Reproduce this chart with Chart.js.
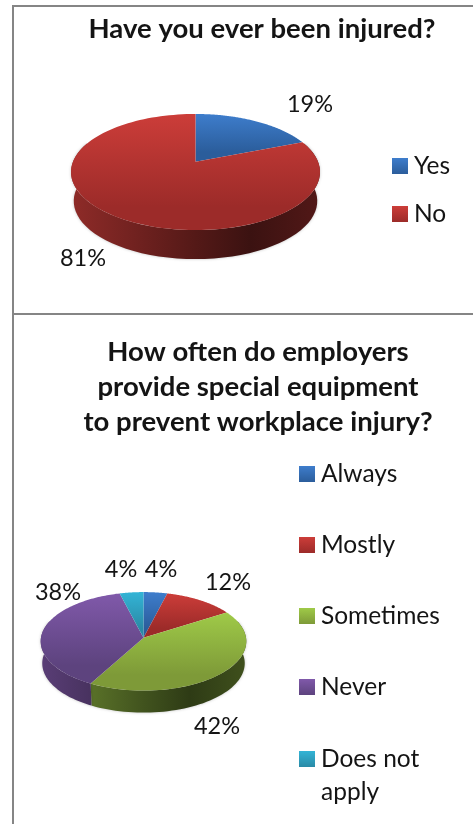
<!DOCTYPE html>
<html>
<head>
<meta charset="utf-8">
<title>Workplace injury</title>
<script src="https://cdn.jsdelivr.net/npm/chart.js@4"></script>
<style>
  html, body { margin: 0; padding: 0; background: #fff; overflow: hidden; }
  body { width: 473px; height: 824px; position: relative; }
  canvas { position: absolute; left: 0; }
  .rule { position: absolute; background: #858585; }
</style>
</head>
<body>
<div class="rule" style="left:12px;top:5px;width:2px;height:819px"></div>
<div class="rule" style="left:12px;top:5px;width:461px;height:2px"></div>
<div class="rule" style="left:12px;top:313px;width:461px;height:2px"></div>
<canvas id="injured" width="473" height="313" style="top:0"></canvas>
<canvas id="equipment" width="473" height="509" style="top:315px"></canvas>
<script>
const injuredTitle = ["Have you ever been injured?"];
const injuredLabels = ["Yes", "No"];
const injuredValues = [19, 81];

const equipmentTitle = ["How often do employers", "provide special equipment", "to prevent workplace injury?"];
const equipmentLabels = ["Always", "Mostly", "Sometimes", "Never", "Does not apply"];
const equipmentValues = [4, 12, 42, 38, 4];

// top and bottom of the gradient on each slice face
const faceTop = ["#3e7dcc", "#cc3d39", "#9fca48", "#8059aa", "#33b4d6"];
const faceBottom = ["#2b5d9b", "#9c2b29", "#7e9a38", "#5d437e", "#2a8aa6"];
// how bright the side wall is, left to right across the pie
const wallStops = [[0, 0.7], [0.25, 0.56], [0.5, 0.41], [0.72, 0.29], [1, 0.4]];

const TEXT = "#141414";
const VALUE_FONT = "23.5px Lato";
const LEGEND_FONT = "24.5px Lato";
const TITLE_FONT = "bold 27.5px Lato";

function shade(hex, f) {
  const n = parseInt(hex.slice(1), 16);
  const r = Math.round(((n >> 16) & 255) * f);
  const g = Math.round(((n >> 8) & 255) * f);
  const b = Math.round((n & 255) * f);
  return `rgb(${r},${g},${b})`;
}

// the pie is tilted with some perspective, so its centre is above the middle of the ellipse
function project(arc, cfg, a) {
  const w = 1 - cfg.tilt * Math.sin(a);
  return {
    x: arc.x + (arc.outerRadius * Math.cos(a)) / w,
    y: arc.y + (arc.outerRadius * cfg.squash * Math.sin(a)) / w,
  };
}

function drawWall(ctx, arc, cfg, color) {
  const lo = Math.max(arc.startAngle, -0.35);
  const hi = Math.min(arc.endAngle, Math.PI + 0.35);
  const ranges = [[lo, hi]];
  // the first slice angles run from -PI/2 to 3PI/2
  if (arc.endAngle > Math.PI * 2 - 0.35) ranges.push([Math.max(arc.startAngle, Math.PI * 2 - 0.35), arc.endAngle]);
  const left = arc.x - arc.outerRadius * 1.02;
  const right = arc.x + arc.outerRadius * 1.02;
  const grad = ctx.createLinearGradient(left, 0, right, 0);
  for (const s of wallStops) grad.addColorStop(s[0], shade(color, s[1]));
  ctx.fillStyle = grad;
  for (const [from, to] of ranges) {
    if (to <= from) continue;
    const steps = 60;
    ctx.beginPath();
    for (let i = 0; i <= steps; i++) {
      const p = project(arc, cfg, from + ((to - from) * i) / steps);
      ctx.lineTo(p.x, p.y);
    }
    for (let i = steps; i >= 0; i--) {
      const p = project(arc, cfg, from + ((to - from) * i) / steps);
      ctx.lineTo(arc.x + (p.x - arc.x) * cfg.narrow, p.y + cfg.depth);
    }
    ctx.closePath();
    ctx.fill();
  }
}

function drawFace(ctx, arc, cfg, i) {
  const steps = 120;
  const pts = [];
  for (let s = 0; s <= steps; s++) {
    pts.push(project(arc, cfg, arc.startAngle + ((arc.endAngle - arc.startAngle) * s) / steps));
  }
  pts.push({ x: arc.x, y: arc.y });
  const ys = pts.map((p) => p.y);
  const grad = ctx.createLinearGradient(0, Math.min(...ys), 0, Math.max(...ys));
  grad.addColorStop(0, faceTop[i]);
  grad.addColorStop(0.8, faceBottom[i]);
  ctx.fillStyle = grad;
  ctx.beginPath();
  pts.forEach((p) => ctx.lineTo(p.x, p.y));
  ctx.closePath();
  ctx.fill();
}

function wrap(ctx, text, maxWidth) {
  const lines = [];
  let line = "";
  for (const word of text.split(" ")) {
    const next = line ? line + " " + word : word;
    if (ctx.measureText(next).width > maxWidth && line) {
      lines.push(line);
      line = word;
    } else {
      line = next;
    }
  }
  lines.push(line);
  return lines;
}

const pie3d = {
  id: "pie3d",
  beforeDatasetsDraw(chart, args, cfg) {
    const ctx = chart.ctx;
    const arcs = chart.getDatasetMeta(0).data;
    ctx.save();
    ctx.shadowColor = "rgba(0,0,0,0.25)";
    ctx.shadowBlur = 3;
    arcs.forEach((arc, i) => drawWall(ctx, arc, cfg, faceTop[i]));
    ctx.restore();
    arcs.forEach((arc, i) => drawFace(ctx, arc, cfg, i));
    return false;
  },
  afterDraw(chart, args, cfg) {
    const ctx = chart.ctx;
    const labels = chart.data.labels;
    const values = chart.data.datasets[0].data;
    ctx.save();
    ctx.fillStyle = TEXT;
    ctx.textBaseline = "alphabetic";
    ctx.textAlign = "center";

    ctx.font = TITLE_FONT;
    cfg.title.forEach((t, i) => ctx.fillText(t, cfg.titleX, cfg.titleY[i]));

    ctx.font = VALUE_FONT;
    values.forEach((v, i) => ctx.fillText(v + "%", cfg.valueAt[i][0], cfg.valueAt[i][1]));

    ctx.font = LEGEND_FONT;
    ctx.textAlign = "left";
    labels.forEach((label, i) => {
      const y = cfg.legendY[i];
      const grad = ctx.createLinearGradient(0, y, 0, y + 16);
      grad.addColorStop(0, faceTop[i]);
      grad.addColorStop(1, faceBottom[i]);
      ctx.fillStyle = grad;
      ctx.fillRect(cfg.legendX, y, 16, 16);
      ctx.fillStyle = TEXT;
      wrap(ctx, label, cfg.legendWidth).forEach((line, n) => {
        ctx.fillText(line, cfg.legendX + 22, y + 16 + n * 33);
      });
    });
    ctx.restore();
  },
};

function makePie(id, labels, values, padding, cfg) {
  return new Chart(document.getElementById(id), {
    type: "pie",
    data: {
      labels: labels,
      datasets: [{ data: values, backgroundColor: faceTop, borderWidth: 0 }],
    },
    options: {
      responsive: false,
      animation: false,
      layout: { padding: padding },
      plugins: {
        legend: { display: false },
        title: { display: false },
        tooltip: { enabled: false },
        pie3d: cfg,
      },
    },
    plugins: [pie3d],
  });
}

makePie("injured", injuredLabels, injuredValues,
  { left: 73, right: 155, top: 39.2, bottom: 28.8 },
  {
    tilt: 0.178, squash: 0.459, depth: 29, narrow: 0.978,
    title: injuredTitle, titleX: 262, titleY: [38],
    valueAt: [[310, 112], [83, 266]],
    legendX: 392, legendY: [158, 206], legendWidth: 80,
  });

makePie("equipment", equipmentLabels, equipmentValues,
  { left: 41, right: 227, top: 220, bottom: 83.6 },
  {
    tilt: 0.074, squash: 0.478, depth: 22, narrow: 0.985,
    title: equipmentTitle, titleX: 258, titleY: [46, 81, 116],
    valueAt: [[161, 262], [228, 275], [217, 419], [58, 285], [121, 262]],
    legendX: 299, legendY: [151, 222, 293, 364, 436], legendWidth: 125,
  });
</script>
</body>
</html>
